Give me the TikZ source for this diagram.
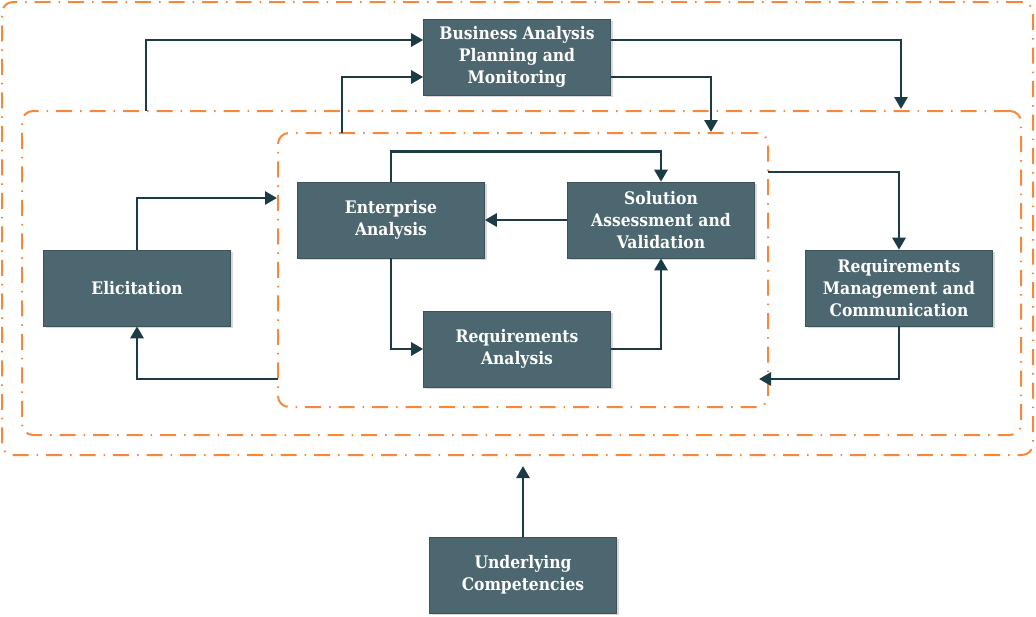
\documentclass[tikz,border=0pt]{standalone}
\usepackage{fontspec}
\setmainfont{DejaVu Serif Condensed}
\usetikzlibrary{arrows.meta,shadows}
\definecolor{slate}{HTML}{4D6770}
\definecolor{darkteal}{HTML}{1B3B45}
\definecolor{zoneorange}{HTML}{F5883A}
\begin{document}
\begin{tikzpicture}[x=1pt, y=-1pt,
    proc/.style={rectangle, fill=slate, draw=slate!80!black, line width=0.6pt, text=white,
      minimum width=187pt, minimum height=76pt, align=center, inner sep=2pt,
      font=\fontsize{17.3}{22}\selectfont\bfseries,
      drop shadow={shadow xshift=2pt, shadow yshift=-2pt, fill=black!15, opacity=1}},
    zone/.style={rectangle, draw=zoneorange, line width=2pt, rounded corners=11pt,
      dash pattern=on 16pt off 8pt on 1.5pt off 8pt, inner sep=0pt},
    flow/.style={draw=darkteal, line width=2.8pt, -{Triangle[length=12pt, width=13pt]}}]
  \useasboundingbox (0,0) rectangle (1036,616);

  % 1. 虚线区域 (外 / 中 / 内)
  \node[zone, minimum width=1031pt, minimum height=453pt] (outer) at (517.5,228.5) {};
  \node[zone, minimum width=999pt, minimum height=324pt] (mid) at (521.5,273) {};
  \node[zone, minimum width=490pt, minimum height=274pt] (inner) at (523,270) {};

  % 2. 知识领域方框
  \node[proc] (bapm) at (517,57) {Business Analysis\\Planning and\\Monitoring};
  \node[proc] (elic) at (137,288) {Elicitation};
  \node[proc] (ent) at (391,220) {Enterprise\\Analysis};
  \node[proc] (sol) at (661,220) {Solution\\Assessment and\\Validation};
  \node[proc] (ra) at (517,349) {Requirements\\Analysis};
  \node[proc] (rmc) at (899,288) {Requirements\\Management and\\Communication};
  \node[proc] (uc) at (523,575) {Underlying\\Competencies};

  % 区域边上的连接点
  \coordinate (m1) at (146,111);
  \coordinate (i1) at (342,133);
  \coordinate (m2) at (901,109);
  \coordinate (i2) at (711,132);
  \coordinate (i3) at (768,172);
  \coordinate (i4) at (759,379);
  \coordinate (i5) at (278,379);
  \coordinate (i6) at (277,198);
  \coordinate (o1) at (523,466);

  % 3. 连接箭头
  \draw[flow] (m1) |- ([yshift=17pt]bapm.west);
  \draw[flow] (i1) |- ([yshift=-20pt]bapm.west);
  \draw[flow] ([yshift=17pt]bapm.east) -| (m2);
  \draw[flow] ([yshift=-20pt]bapm.east) -| (i2);
  \draw[flow] (i3) -| (rmc.north);
  \draw[flow] (rmc.south) |- (i4);
  \draw[flow] (i5) -| (elic.south);
  \draw[flow] (elic.north) |- (i6);
  \draw[flow] (ent.south) |- (ra.west);
  \draw[flow] (ra.east) -| (sol.south);
  \draw[flow] (sol.west) -- (ent.east);
  \draw[flow] (ent.north) -- ++(0,-30) -| (sol.north);
  \draw[flow] (uc.north) -- (o1);
\end{tikzpicture}
\end{document}
